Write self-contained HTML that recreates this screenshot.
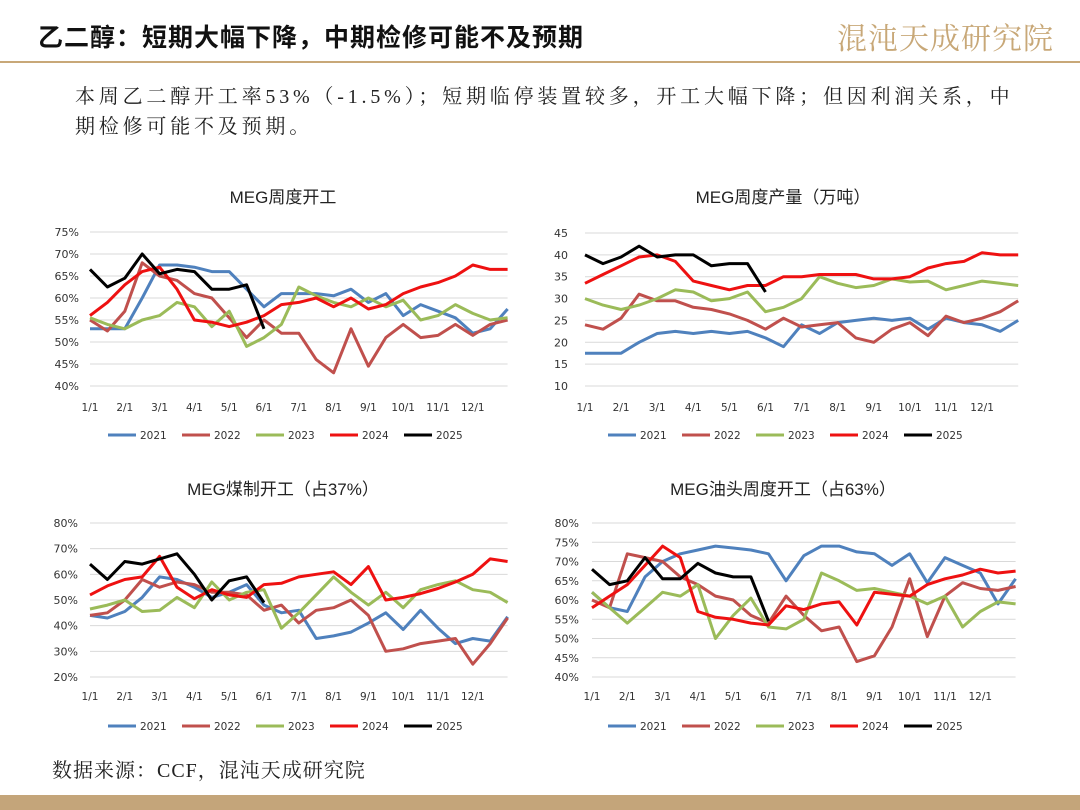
<!DOCTYPE html>
<html><head><meta charset="utf-8">
<style>
body{margin:0;background:#fff;}
#wrap{position:relative;width:1080px;height:810px;overflow:hidden;background:#fff;font-family:"Liberation Serif","Noto Serif CJK SC",serif;}
.hdr{position:absolute;left:38px;top:18px;font-size:25px;font-weight:bold;font-family:"Liberation Sans","Noto Sans CJK SC",sans-serif;color:#111;letter-spacing:1px;}
.logo{position:absolute;right:26px;top:14px;font-size:30px;color:#c8a878;font-family:"Noto Serif CJK SC",serif;letter-spacing:1px;}
.rule{position:absolute;left:0;top:61px;width:1080px;height:2px;background:#c8a878;}
.body{position:absolute;left:75px;top:82px;width:1000px;font-size:20px;line-height:30px;color:#222;font-family:"Liberation Serif","Noto Serif CJK SC",serif;letter-spacing:3.8px;white-space:nowrap;}
.src{position:absolute;left:52px;top:754px;font-size:20px;color:#222;letter-spacing:1px;}
.band{position:absolute;left:0;top:795px;width:1080px;height:15px;background:#c4a57a;}
svg{position:absolute;left:0;top:0;}
</style></head>
<body>
<div id="wrap">
<div class="hdr">乙二醇：短期大幅下降，中期检修可能不及预期</div>
<div class="logo">混沌天成研究院</div>
<div class="rule"></div>
<div class="body">本周乙二醇开工率53%（-1.5%）；短期临停装置较多，开工大幅下降；但因利润关系，中<br>期检修可能不及预期。</div>
<div class="src">数据来源：CCF，混沌天成研究院</div>
<div class="band"></div>
<svg id="svg" width="1080" height="810"></svg>
</div>
<script>
const months=["1/1","2/1","3/1","4/1","5/1","6/1","7/1","8/1","9/1","10/1","11/1","12/1"];
const years=["2021","2022","2023","2024","2025"];
const colors=["#4f81bd","#c0504d","#9bbb59","#ee1111","#000000"];
// chart 1: MEG weekly operating rate (%), half-month steps
const c1_2021=[53,53,53,60,67.5,67.5,67,66,66,62,58,61,61,61,60.5,62,59,61,56,58.5,57,55.5,52,53,57.5];
const c1_2022=[55,52.5,57,68,65,64,61,60,55.5,51,55,52,52,46,43,53,44.5,51,54,51,51.5,54,51.5,54,55];
const c1_2023=[55.5,54,53,55,56,59,58,53.5,57,49,51,54,62.5,60.5,59,58,60,58,59.5,55,56,58.5,56.5,55,55.5];
const c1_2024=[56,59,63,66,67,62,55,54.5,53.5,54.5,56,58.5,59,60,58,60,57.5,58.5,61,62.5,63.5,65,67.5,66.5,66.5];
const c1_2025=[66.5,62.5,64.5,70,65.5,66.5,66,62,62,63,53];
// chart 2: weekly output (10k t)
const c2_2021=[17.5,17.5,17.5,20,22,22.5,22,22.5,22,22.5,21,19,24,22,24.5,25,25.5,25,25.5,23,25.5,24.5,24,22.5,25];
const c2_2022=[24,23,25.5,31,29.5,29.5,28,27.5,26.5,25,23,25.5,23.5,24,24.5,21,20,23,24.5,21.5,26,24.5,25.5,27,29.5];
const c2_2023=[30,28.5,27.5,28.5,30,32,31.5,29.5,30,31.5,27,28,30,35,33.5,32.5,33,34.5,33.8,34,32,33,34,33.5,33];
const c2_2024=[33.5,35.5,37.5,39.5,40,38.5,34,33,32,33,33,35,35,35.5,35.5,35.5,34.5,34.5,35,37,38,38.5,40.5,40,40];
const c2_2025=[40,38,39.5,42,39.5,40,40,37.5,38,38,31.5];
// chart 3: coal-based operating rate
const c3_2021=[44,43,45.5,51,59,58,55,51,53,56,48,45,46,35,36,37.5,41,45,38.5,46,39,33,35,34,43.5];
const c3_2022=[44,45,50,58,55,57,56,53,53,52,46,48,41,46,47,50,44,30,31,33,34,35,25,33,43];
const c3_2023=[46.5,48,50,45.5,46,51,47,57,50,53,54,39,45,52,59,53,48,53,47,54,56,57.5,54,53,49];
const c3_2024=[52,55.5,58,59,67,55,50.5,54,52,51,56,56.5,59,60,61,56,63,50,51,52.5,54.5,57,60,66,65];
const c3_2025=[64,58,65,64,66,68,60,50,57.5,59,49];
// chart 4: oil-based operating rate
const c4_2021=[62,58,57,66,70,72,73,74,73.5,73,72,65,71.5,74,74,72.5,72,69,72,64.5,71,69,67,59,65.5];
const c4_2022=[60,58,72,71,70,66,64,61,60,56,54,61,56,52,53,44,45.5,53,65.5,50.5,61,64.5,63,62.5,63.5];
const c4_2023=[62,58,54,58,62,61,64,50,56,60.5,53,52.5,55,67,65,62.5,63,62,61,59,61,53,57,59.5,59];
const c4_2024=[58,61,64,69,74,71,57,55.5,55,54,53.5,58.5,57.5,59,59.5,53.5,62,61.5,61,64,65.5,66.5,68,67,67.5];
const c4_2025=[68,64,65,71,65.5,65.5,69.5,67,66,66,54.5];

const charts=[
 {name:"operating-rate-chart",title:"MEG周度开工",ticks:[40,45,50,55,60,65,70,75],pct:true,ymin:40,ymax:75,top:232,bot:386,x0:90,mw:34.8,lx:79,tx:283,ty:197,ly:435,xl:407,series:[c1_2021,c1_2022,c1_2023,c1_2024,c1_2025]},
 {name:"weekly-output-chart",title:"MEG周度产量（万吨）",ticks:[10,15,20,25,30,35,40,45],pct:false,ymin:10,ymax:45,top:233,bot:386,x0:585,mw:36.1,lx:568,tx:783,ty:197,ly:435,xl:407,series:[c2_2021,c2_2022,c2_2023,c2_2024,c2_2025]},
 {name:"coal-rate-chart",title:"MEG煤制开工（占37%）",ticks:[20,30,40,50,60,70,80],pct:true,ymin:20,ymax:80,top:523,bot:677,x0:90,mw:34.8,lx:78,tx:283,ty:489,ly:726,xl:696,series:[c3_2021,c3_2022,c3_2023,c3_2024,c3_2025]},
 {name:"oil-rate-chart",title:"MEG油头周度开工（占63%）",ticks:[40,45,50,55,60,65,70,75,80],pct:true,ymin:40,ymax:80,top:523,bot:677,x0:592,mw:35.3,lx:579,tx:783,ty:489,ly:726,xl:696,series:[c4_2021,c4_2022,c4_2023,c4_2024,c4_2025]}
];
const NS="http://www.w3.org/2000/svg";
const svg=document.getElementById('svg');
function mk(t,a,p){const e=document.createElementNS(NS,t);for(const k in a)e.setAttribute(k,a[k]);(p||svg).appendChild(e);return e;}
charts.forEach((c,ci)=>{
 const g=mk('g',{});
 
 
 const Y=v=>c.bot-(v-c.ymin)/(c.ymax-c.ymin)*(c.bot-c.top);
 const X=m=>c.x0+m*c.mw;
 const t=mk('text',{x:c.tx,y:c.ty+6,'text-anchor':'middle','font-size':17,fill:'#222','font-family':'"Liberation Sans","Noto Sans CJK SC",sans-serif'},g);
 t.textContent=c.title;
 
 
 c.ticks.forEach(v=>{
  const l=mk('line',{x1:X(0),x2:X(12),y1:Y(v),y2:Y(v),stroke:'#d9d9d9','stroke-width':1},g);
  
  
  const tx=mk('text',{x:c.lx,y:Y(v)+4,'text-anchor':'end','font-size':11,fill:'#333','font-family':'"DejaVu Sans",sans-serif'},g);
  tx.textContent=v+(c.pct?'%':'');
  
  
 });
 months.forEach((m,i)=>{
  const tx=mk('text',{x:X(i),y:c.xl+4,'text-anchor':'middle','font-size':10.5,fill:'#333','font-family':'"DejaVu Sans",sans-serif'},g);
  tx.textContent=m;
  
  
 });
 c.series.forEach((s,si)=>{
  const pts=s.map((v,i)=>X(i*0.5).toFixed(1)+','+Y(v).toFixed(1)).join(' ');
  const p=mk('polyline',{points:pts,fill:'none',stroke:colors[si],'stroke-width':3,'stroke-linejoin':'round'},g);
  
  
 });
 const lx0=c.tx-175;
 years.forEach((y,i)=>{
  const x=lx0+i*74;
  const l=mk('line',{x1:x,x2:x+28,y1:c.ly,y2:c.ly,stroke:colors[i],'stroke-width':3},g);
  
  
  const tx=mk('text',{x:x+32,y:c.ly+4,'font-size':10.5,fill:'#333','font-family':'"DejaVu Sans",sans-serif'},g);
  tx.textContent=y;
  
  
 });
});
</script>
</body></html>
